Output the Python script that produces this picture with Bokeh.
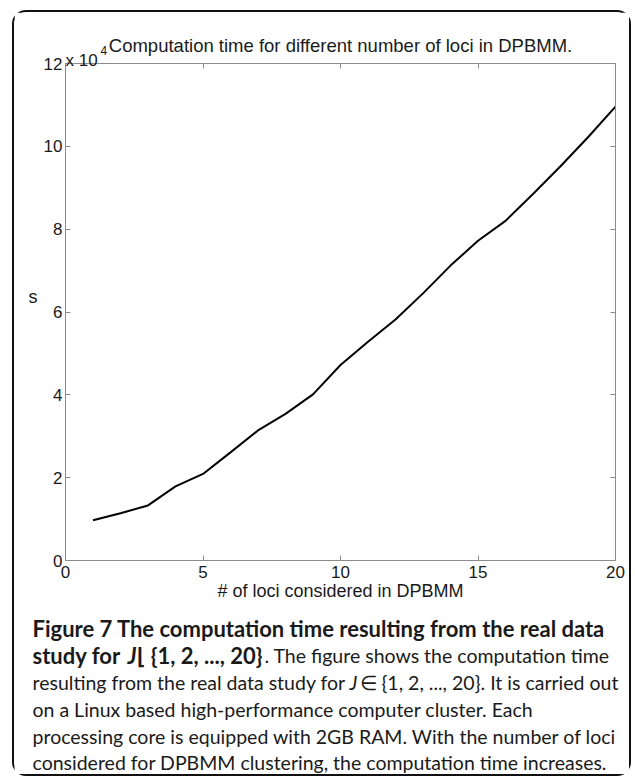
from bokeh.plotting import figure
from bokeh.models import Label, LinearAxis, FixedTicker, Range1d
from bokeh.layouts import column
from bokeh.embed import file_html
from bokeh.resources import INLINE

# ---- data ----
loci = list(range(1, 21))
time_s = [9700, 11400, 13300, 17900, 20900, 26100, 31400, 35400, 40100, 47200,
          52800, 58200, 64500, 71200, 77200, 82000, 88500, 95200, 102200, 109600]
x_ticks = [0, 5, 10, 15, 20]
y_ticks = [0, 20000, 40000, 60000, 80000, 100000, 120000]
y_tick_labels = ["0", "2", "4", "6", "8", "10", "12"]
x_max = 20
y_max = 120000

title_text = "Computation time for different number of loci in DPBMM."
x_label_text = "# of loci considered in DPBMM"
y_label_text = "s"
multiplier_base = "x 10"
multiplier_exp = "4"

AX = "#8c8c8c"
TXT = "#1a1a1a"
FONT = "Liberation Sans"
CAP = "Lato"

# geometry (pixels)
FRAME_W, PLOT_H = 550, 497           # visible axes box
HEAD = 31                            # extra frame room above the box for title texts
FRAME_H = PLOT_H + HEAD

p = figure(frame_width=FRAME_W, frame_height=FRAME_H,
           x_range=Range1d(0, x_max), y_range=Range1d(0, y_max * FRAME_H / PLOT_H),
           output_backend="svg", toolbar_location=None,
           min_border_left=51, min_border_right=14, min_border_top=20, min_border_bottom=52)
p.frame_align = False
p.grid.visible = False
p.outline_line_color = None
p.background_fill_color = "white"
p.border_fill_color = "white"

def style_axis(ax, ticks, labels=True):
    ax.ticker = FixedTicker(ticks=ticks)
    ax.axis_line_color = AX
    ax.major_tick_line_color = AX
    ax.major_tick_in = 5
    ax.major_tick_out = 0
    ax.minor_tick_line_color = None
    ax.major_label_text_font = FONT
    if labels:
        ax.major_label_text_font_size = "17px"
        ax.major_label_text_color = TXT
    else:
        ax.major_label_text_font_size = "1px"
        ax.major_label_text_color = None
        ax.major_label_standoff = 0

bx = p.xaxis[0]
style_axis(bx, x_ticks)
bx.major_label_standoff = 5
bx.axis_label = x_label_text
bx.axis_label_text_font = FONT
bx.axis_label_text_font_size = "18px"
bx.axis_label_text_font_style = "normal"
bx.axis_label_text_color = TXT
bx.axis_label_standoff = 0

ly = p.yaxis[0]
style_axis(ly, y_ticks)
ly.bounds = (0, y_max)
ly.major_label_standoff = 3
ly.major_label_overrides = dict(zip(y_ticks, y_tick_labels))
ly.axis_label = y_label_text
ly.axis_label_orientation = "horizontal"
ly.axis_label_text_font = FONT
ly.axis_label_text_font_size = "18px"
ly.axis_label_text_font_style = "normal"
ly.axis_label_text_color = TXT
ly.axis_label_standoff = 3

top_ax = LinearAxis(fixed_location=y_max, bounds=(0, x_max))
style_axis(top_ax, x_ticks, labels=False)
p.add_layout(top_ax, "above")
right_ax = LinearAxis(bounds=(0, y_max))
style_axis(right_ax, y_ticks, labels=False)
p.add_layout(right_ax, "right")

p.line(loci, time_s, line_color="black", line_width=2)

def lab(fig, text, x, y, size, font=FONT, style="normal", align="left", baseline="middle", units="screen"):
    fig.add_layout(Label(x=x, y=y, x_units=units, y_units=units, text=text,
                         text_font=font, text_font_size=size, text_font_style=style,
                         text_color=TXT, text_align=align, text_baseline=baseline))

# frame-relative screen coordinates (x from frame left, y up from frame bottom)
lab(p, title_text, FRAME_W / 2, 515, "18.5px", align="center")
lab(p, multiplier_base, 0, 500, "17px", baseline="alphabetic")
lab(p, multiplier_exp, 35, 510, "12px", baseline="alphabetic")

# ---- caption panel (pixel coordinates, y downwards) ----
CAP_W, CAP_H = 615, 162
cap = figure(width=CAP_W, height=CAP_H, x_range=Range1d(0, CAP_W), y_range=Range1d(CAP_H, 0),
             output_backend="svg", toolbar_location=None, x_axis_type=None, y_axis_type=None,
             min_border_left=0, min_border_right=0, min_border_top=0, min_border_bottom=0)
cap.frame_align = False
cap.grid.visible = False
cap.outline_line_color = None
cap.background_fill_color = "white"
cap.border_fill_color = "white"

HB = "22px"     # bold heading
BD = "19.5px"   # body
L = 18
rows = [16, 43, 70, 97, 124, 150]
lab(cap, "Figure 7 The computation time resulting from the real data", L, rows[0], HB, font=CAP, style="bold", units="data")
lab(cap, "study for ", L, rows[1], HB, font=CAP, style="bold", units="data")
lab(cap, "J", 113, rows[1], HB, font=CAP, style="bold italic", units="data")
lab(cap, "\u230a {1, 2, ..., 20}", 122, rows[1], HB, font=CAP, style="bold", units="data")
lab(cap, ". The figure shows the computation time", 250, rows[1], BD, font=CAP, units="data")
lab(cap, "resulting from the real data study for ", L, rows[2], BD, font=CAP, units="data")
lab(cap, "J", 335, rows[2], BD, font=CAP, style="italic", units="data")
lab(cap, " \u2208 {1, 2, ..., 20}. It is carried out", 345, rows[2], BD, font=CAP, units="data")
lab(cap, "on a Linux based high-performance computer cluster. Each", L, rows[3], BD, font=CAP, units="data")
lab(cap, "processing core is equipped with 2GB RAM. With the number of loci", L, rows[4], BD, font=CAP, units="data")
lab(cap, "considered for DPBMM clustering, the computation time increases.", L, rows[5], BD, font=CAP, units="data")

layout = column(p, cap, styles={"border": "2px solid #111111", "border-radius": "14px",
                                "margin-left": "12px", "margin-top": "10px"})

open("out.html", "w").write(file_html(layout, INLINE))
